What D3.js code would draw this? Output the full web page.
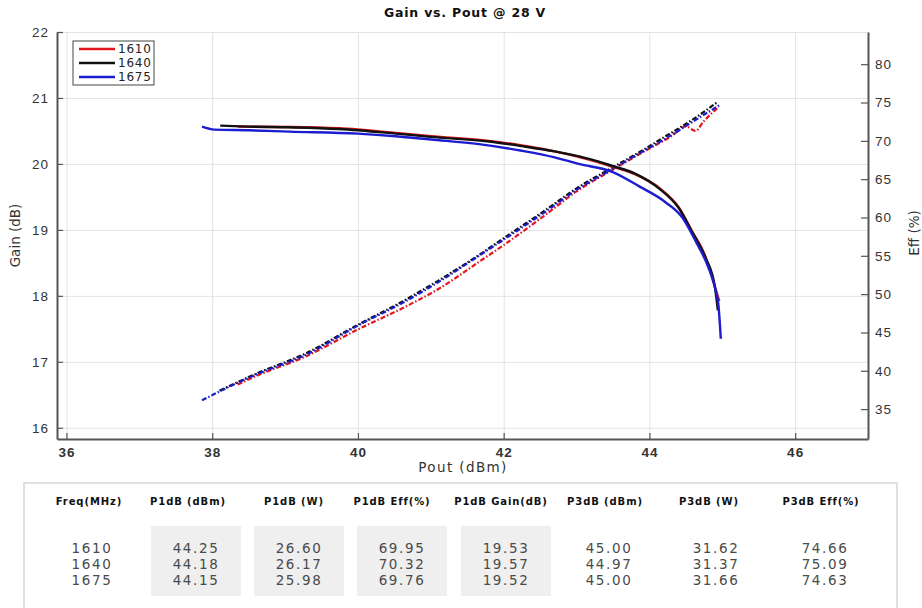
<!DOCTYPE html>
<html>
<head>
<meta charset="utf-8">
<script src="https://cdn.jsdelivr.net/npm/d3@7"></script>
<style>
  body { margin: 0; background: #fff; }
  svg { display: block; font-family: "DejaVu Sans", "Liberation Sans", Arial, sans-serif; }
</style>
</head>
<body>
<script>
// ---- data ----
const freqs = ['1610', '1640', '1675'];
const seriesColors = ['#e3161d', '#111111', '#1c1cd0'];

const xTicks = [36, 38, 40, 42, 44, 46];
const gainTicks = [16, 17, 18, 19, 20, 21, 22];
const effTicks = [35, 40, 45, 50, 55, 60, 65, 70, 75, 80];

// gain vs pout (solid lines, left axis)
const gainPout1610 = [38.35, 39.06, 39.74, 40.52, 41.0, 41.8, 42.25, 42.7, 43.12, 43.49, 43.81, 44.13, 44.41, 44.58, 44.77, 44.9, 44.96];
const gain1610 = [20.565, 20.56, 20.54, 20.47, 20.42, 20.35, 20.28, 20.19, 20.08, 19.96, 19.84, 19.64, 19.33, 18.99, 18.59, 18.13, 17.92];

const gainPout1640 = [38.11, 38.5, 39.06, 39.74, 40.52, 41.0, 41.8, 42.25, 42.7, 43.05, 43.2, 43.49, 43.81, 44.13, 44.41, 44.58, 44.77, 44.9, 44.94];
const gain1640 = [20.58, 20.565, 20.555, 20.53, 20.46, 20.41, 20.34, 20.27, 20.19, 20.11, 20.07, 19.97, 19.85, 19.63, 19.32, 18.98, 18.58, 18.13, 17.78];

const gainPout1675 = [37.86, 38.03, 38.5, 39.06, 40.0, 40.52, 41.0, 41.66, 42.25, 42.7, 43.03, 43.49, 43.86, 44.22, 44.45, 44.63, 44.81, 44.9, 44.95, 44.98];
const gain1675 = [20.565, 20.52, 20.51, 20.49, 20.46, 20.42, 20.37, 20.30, 20.20, 20.10, 20.0, 19.88, 19.66, 19.42, 19.19, 18.84, 18.43, 18.13, 17.83, 17.35];

// efficiency vs pout (dash-dot lines, right axis)
const effPout1610 = [38.35, 38.6, 39.29, 40.0, 40.66, 41.11, 41.66, 42.0, 42.58, 43.0, 43.49, 44.0, 44.3, 44.5, 44.63, 44.75, 44.95];
const eff1610 = [38.2, 39.3, 41.9, 45.4, 48.4, 50.7, 54.2, 56.4, 60.4, 63.4, 66.2, 69.0, 70.6, 71.9, 71.3, 72.6, 74.4];

const effPout1640 = [38.1, 38.6, 39.29, 40.0, 40.66, 41.11, 41.66, 42.0, 42.58, 43.0, 43.49, 44.0, 44.17, 44.63, 44.94];
const eff1640 = [37.4, 39.6, 42.3, 46.0, 49.3, 51.8, 55.1, 57.3, 61.0, 63.8, 66.5, 69.3, 70.3, 73.0, 75.1];

const effPout1675 = [37.86, 38.1, 38.6, 39.29, 40.0, 40.66, 41.11, 41.66, 42.0, 42.58, 43.0, 43.49, 44.0, 44.17, 44.63, 44.97];
const eff1675 = [36.15, 37.3, 39.5, 42.1, 45.9, 49.1, 51.6, 55.0, 57.1, 60.8, 63.6, 66.3, 69.1, 70.0, 72.7, 74.7];

// summary table
const tableHeaders = ['Freq(MHz)', 'P1dB (dBm)', 'P1dB (W)', 'P1dB Eff(%)', 'P1dB Gain(dB)', 'P3dB (dBm)', 'P3dB (W)', 'P3dB Eff(%)'];
const p1dbDbm = ['44.25', '44.18', '44.15'];
const p1dbW = ['26.60', '26.17', '25.98'];
const p1dbEff = ['69.95', '70.32', '69.76'];
const p1dbGain = ['19.53', '19.57', '19.52'];
const p3dbDbm = ['45.00', '44.97', '45.00'];
const p3dbW = ['31.62', '31.37', '31.66'];
const p3dbEff = ['74.66', '75.09', '74.63'];

// ---- layout ----
const width = 922;
const height = 608;
const L = 57, R = 868, T = 32, B = 439;

const zip = (a, b) => a.map((v, i) => [v, b[i]]);
const series = [
  { name: freqs[0], color: seriesColors[0], gain: zip(gainPout1610, gain1610), eff: zip(effPout1610, eff1610) },
  { name: freqs[1], color: seriesColors[1], gain: zip(gainPout1640, gain1640), eff: zip(effPout1640, eff1640) },
  { name: freqs[2], color: seriesColors[2], gain: zip(gainPout1675, gain1675), eff: zip(effPout1675, eff1675) },
];

const x = d3.scaleLinear().domain([35.87, 47.0]).range([L, R]);
const yGain = d3.scaleLinear().domain([15.83, 22]).range([B, T]);
const yEff = d3.scaleLinear().domain([31.1, 84.2]).range([B, T]);

const svg = d3.select('body').append('svg')
  .attr('width', width)
  .attr('height', height);

// grid
svg.append('g')
  .attr('transform', `translate(0,${B})`)
  .call(d3.axisBottom(x).tickValues(xTicks).tickSize(-(B - T)).tickFormat(''))
  .call(g => {
    g.select('.domain').remove();
    g.selectAll('line').attr('stroke', '#e3e3e3').attr('stroke-width', 1);
  });
svg.append('g')
  .attr('transform', `translate(${L},0)`)
  .call(d3.axisLeft(yGain).tickValues(gainTicks).tickSize(-(R - L)).tickFormat(''))
  .call(g => {
    g.select('.domain').remove();
    g.selectAll('line').attr('stroke', '#e3e3e3').attr('stroke-width', 1);
  });

// curves
const gainLine = d3.line()
  .x(d => x(d[0]))
  .y(d => yGain(d[1]))
  .curve(d3.curveMonotoneX);
const effLine = d3.line()
  .x(d => x(d[0]))
  .y(d => yEff(d[1]))
  .curve(d3.curveMonotoneX);

svg.append('g').selectAll('path')
  .data(series)
  .join('path')
  .attr('d', d => effLine(d.eff))
  .attr('fill', 'none')
  .attr('stroke', d => d.color)
  .attr('stroke-width', 2.2)
  .attr('stroke-dasharray', '5,2,1.5,2');

svg.append('g').selectAll('path')
  .data(series)
  .join('path')
  .attr('d', d => gainLine(d.gain))
  .attr('fill', 'none')
  .attr('stroke', d => d.color)
  .attr('stroke-width', 2.4);

// axes
function styleAxis(g) {
  g.select('.domain').attr('stroke', '#555').attr('stroke-width', 2);
  g.selectAll('.tick line').attr('stroke', '#555').attr('stroke-width', 1.2);
  g.selectAll('.tick text')
    .attr('fill', '#333')
    .style('font-size', '13.5px')
    .style('letter-spacing', '1px');
}

svg.append('g')
  .attr('transform', `translate(${L},0)`)
  .call(d3.axisLeft(yGain).tickValues(gainTicks).tickFormat(d3.format('d'))
    .tickSizeInner(-6).tickSizeOuter(0).tickPadding(8))
  .call(styleAxis);

svg.append('g')
  .attr('transform', `translate(${R},0)`)
  .call(d3.axisRight(yEff).tickValues(effTicks).tickFormat(d3.format('d'))
    .tickSizeInner(-7).tickSizeOuter(0).tickPadding(7))
  .call(styleAxis);

svg.append('g')
  .attr('transform', `translate(0,${B})`)
  .call(d3.axisBottom(x).tickValues(xTicks).tickFormat(d3.format('d'))
    .tickSizeInner(-6).tickSizeOuter(0).tickPadding(8))
  .call(styleAxis)
  .call(g => g.selectAll('.tick text').style('font-weight', 'bold'));

// titles
svg.append('text')
  .attr('x', 465).attr('y', 17)
  .attr('text-anchor', 'middle')
  .style('font-size', '12.5px')
  .style('font-weight', 'bold')
  .style('letter-spacing', '0.8px')
  .attr('fill', '#111')
  .text('Gain vs. Pout @ 28 V');

svg.append('text')
  .attr('x', 463).attr('y', 472)
  .attr('text-anchor', 'middle')
  .style('font-size', '13.5px')
  .style('letter-spacing', '1.4px')
  .attr('fill', '#333')
  .text('Pout (dBm)');

svg.append('text')
  .attr('transform', `translate(20,${(T + B) / 2}) rotate(-90)`)
  .attr('text-anchor', 'middle')
  .style('font-size', '13.5px')
  .attr('fill', '#333')
  .text('Gain (dB)');

svg.append('text')
  .attr('transform', `translate(919,233) rotate(-90)`)
  .attr('text-anchor', 'middle')
  .style('font-size', '13.5px')
  .attr('fill', '#333')
  .text('Eff (%)');

// legend
const legend = svg.append('g').attr('transform', 'translate(73,41)');
legend.append('rect')
  .attr('width', 81).attr('height', 44)
  .attr('fill', '#fff')
  .attr('stroke', '#444').attr('stroke-width', 1);
const item = legend.selectAll('g.item')
  .data(series)
  .join('g')
  .attr('class', 'item')
  .attr('transform', (d, i) => `translate(0,${8 + i * 14})`);
item.append('line')
  .attr('x1', 6).attr('x2', 42)
  .attr('stroke', d => d.color)
  .attr('stroke-width', 2.6);
item.append('text')
  .attr('x', 45).attr('dy', '0.36em')
  .style('font-size', '12px')
  .style('letter-spacing', '0.8px')
  .attr('fill', '#222')
  .text(d => d.name);

// table
const headerX = [89, 188, 294, 392, 501, 605, 709, 821];
const valueX = [92, 196, 299, 402, 506, 609, 716, 825];
const columns = [freqs, p1dbDbm, p1dbW, p1dbEff, p1dbGain, p3dbDbm, p3dbW, p3dbEff];

const table = svg.append('g');
table.append('rect')
  .attr('x', 24).attr('y', 483)
  .attr('width', 873).attr('height', 150)
  .attr('fill', '#fff')
  .attr('stroke', '#d6d6d6').attr('stroke-width', 1.5);

table.selectAll('rect.shade')
  .data([1, 2, 3, 4])
  .join('rect')
  .attr('class', 'shade')
  .attr('x', i => valueX[i] - 45)
  .attr('y', 526)
  .attr('width', 90)
  .attr('height', 70)
  .attr('fill', '#efefef');

table.selectAll('text.head')
  .data(tableHeaders)
  .join('text')
  .attr('class', 'head')
  .attr('x', (d, i) => headerX[i])
  .attr('y', 505)
  .attr('text-anchor', 'middle')
  .style('font-size', '10px')
  .style('font-weight', 'bold')
  .style('letter-spacing', '0.9px')
  .attr('fill', '#111')
  .text(d => d);

columns.forEach((col, ci) => {
  table.selectAll(`text.c${ci}`)
    .data(col)
    .join('text')
    .attr('class', `c${ci}`)
    .attr('x', valueX[ci])
    .attr('y', (d, ri) => 553 + ri * 16)
    .attr('text-anchor', 'middle')
    .style('font-size', '13.5px')
    .style('letter-spacing', '1.6px')
    .attr('fill', '#4a4a4a')
    .text(d => d);
});
</script>
</body>
</html>
